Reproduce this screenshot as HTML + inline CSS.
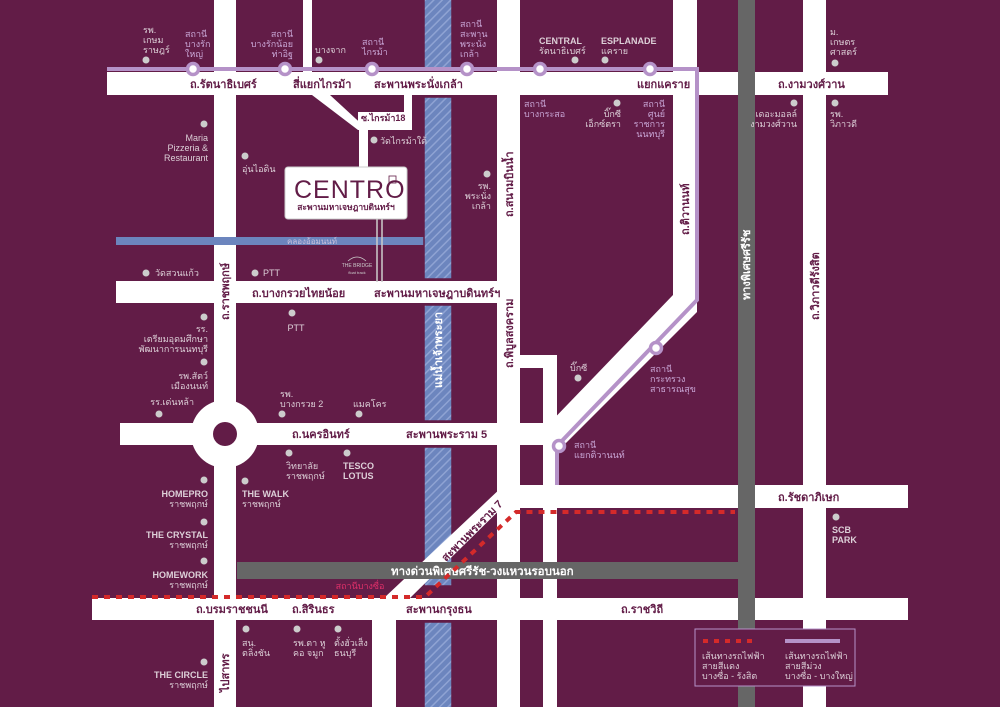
<!DOCTYPE html>
<html><head><meta charset="utf-8"><style>
html,body{margin:0;padding:0;background:#621c47;}
svg{display:block;font-family:"Liberation Sans","DejaVu Sans",sans-serif;}
.r{font-size:11px;font-weight:bold;fill:#621c47;}
.p{font-size:9px;fill:#ddd0d8;}
.s{font-size:9px;fill:#c9a6d6;}
.b{font-weight:bold;}
</style></head><body>
<svg width="1000" height="707" viewBox="0 0 1000 707" xmlns="http://www.w3.org/2000/svg">
<defs>
<pattern id="h" width="6" height="6" patternUnits="userSpaceOnUse" patternTransform="rotate(45)">
<rect width="6" height="6" fill="#6c85be"/><rect width="1.5" height="6" fill="#8fa3d3"/>
</pattern>
</defs>
<rect width="1000" height="707" fill="#621c47"/>
<g fill="#fff">
<!-- horizontal roads -->
<rect x="107" y="72" width="781" height="23"/>
<rect x="116" y="281" width="404" height="22"/>
<rect x="120" y="423" width="437" height="22"/>
<rect x="497" y="485" width="411" height="23"/>
<rect x="92" y="598" width="816" height="22"/>
<!-- vertical roads -->
<rect x="214" y="0" width="22" height="707"/>
<rect x="303" y="0" width="9" height="72"/>
<rect x="497" y="0" width="23" height="707"/>
<rect x="543" y="355" width="14" height="352"/>
<rect x="520" y="355" width="30" height="13"/>
<rect x="673" y="0" width="24" height="300"/>
<rect x="803" y="0" width="23" height="707"/>
<rect x="372" y="620" width="24" height="87"/>
<!-- small roads near centro -->
<polygon points="312,95 330,95 368,130 358,130"/>
<rect x="359" y="125" width="9" height="43"/>
<rect x="404" y="95" width="8" height="35"/>
<rect x="358" y="112" width="54" height="18"/>
<!-- tiwanon diagonal -->
<polygon points="673,295 697,295 697,312 557,452 543,452 543,430"/>
<!-- roundabout -->
<circle cx="225" cy="434" r="34"/>
</g>
<circle cx="225" cy="434" r="12" fill="#621c47"/>
<!-- canal -->
<rect x="116" y="237" width="308" height="8" fill="#6c85be"/>
<text x="312" y="244" class="p" text-anchor="middle" style="font-size:8px;fill:#c8c0dc">คลองอ้อมนนท์</text>
<!-- river -->
<g fill="url(#h)" stroke="#621c47" stroke-width="1.5">
<rect x="424" y="-2" width="28" height="72"/>
<rect x="424" y="97" width="28" height="182"/>
<rect x="424" y="305" width="28" height="116"/>
<rect x="424" y="447" width="28" height="139"/>
<rect x="424" y="622" width="28" height="90"/>
</g>
<!-- rama 7 diagonal -->
<polygon points="384,598 410,598 520,490 520,470" fill="#fff"/>
<!-- expressway -->
<rect x="237" y="562" width="518" height="17" fill="#666"/>
<rect x="738" y="0" width="17" height="707" fill="#666"/>
<text x="391" y="575" class="r" style="fill:#fff;font-size:11.5px">ทางด่วนพิเศษศรีรัช-วงแหวนรอบนอก</text>
<text class="r" transform="translate(750,300) rotate(-90)" style="fill:#fff">ทางพิเศษศรีรัช</text>
<!-- red line -->
<polyline points="92,597 425,597 516,512 735,512" fill="none" stroke="#d42a2a" stroke-width="4" stroke-dasharray="6,6"/>
<text x="360" y="589" class="p" text-anchor="middle" style="fill:#e0306a">สถานีบางซื่อ</text>
<!-- purple line -->
<polyline points="107,69 697,69 697,300 557,446 557,485" fill="none" stroke="#b592c8" stroke-width="4"/>
<g fill="#fff" stroke="#b592c8" stroke-width="3.5">
<circle cx="193" cy="69" r="5.5"/><circle cx="285" cy="69" r="5.5"/><circle cx="372" cy="69" r="5.5"/>
<circle cx="467" cy="69" r="5.5"/><circle cx="540" cy="69" r="5.5"/><circle cx="650" cy="69" r="5.5"/>
<circle cx="656" cy="348" r="5.5"/><circle cx="559" cy="446" r="5.5"/>
</g>
<!-- centro box -->
<line x1="377" y1="219" x2="377" y2="282" stroke="#ccc" stroke-width="1.5"/>
<line x1="382" y1="219" x2="382" y2="282" stroke="#ccc" stroke-width="1.5"/>
<rect x="285" y="167" width="122" height="52" rx="3" fill="#fff" stroke="#ccc"/>
<text x="294" y="198" style="font-size:25px;fill:#621c47;letter-spacing:1px;font-weight:300">CENTRO</text>
<rect x="389" y="176" width="7" height="7" fill="none" stroke="#621c47" stroke-width="0.8"/>
<text x="346" y="210" text-anchor="middle" style="font-size:8.5px;font-weight:bold;fill:#621c47">สะพานมหาเจษฎาบดินทร์ฯ</text>
<text x="357" y="267" text-anchor="middle" style="font-size:5px;fill:#ccc">THE BRIDGE</text>
<path d="M348 261 Q357 253 366 261" fill="none" stroke="#ccc" stroke-width="0.8"/>
<text x="357" y="274" text-anchor="middle" style="font-size:4px;fill:#ccc">float track</text>
<!-- road labels -->
<text x="190" y="88" class="r">ถ.รัตนาธิเบศร์</text>
<text x="293" y="88" class="r">สี่แยกไกรม้า</text>
<text x="374" y="88" class="r">สะพานพระนั่งเกล้า</text>
<text x="637" y="88" class="r">แยกแคราย</text>
<text x="778" y="88" class="r">ถ.งามวงศ์วาน</text>
<text x="361" y="121" class="r" style="font-size:9px">ซ.ไกรม้า18</text>
<text x="252" y="297" class="r">ถ.บางกรวยไทยน้อย</text>
<text x="374" y="297" class="r">สะพานมหาเจษฎาบดินทร์ฯ</text>
<text x="292" y="438" class="r">ถ.นครอินทร์</text>
<text x="406" y="438" class="r">สะพานพระราม 5</text>
<text x="778" y="501" class="r">ถ.รัชดาภิเษก</text>
<text x="196" y="613" class="r">ถ.บรมราชชนนี</text>
<text x="292" y="613" class="r">ถ.สิรินธร</text>
<text x="406" y="613" class="r">สะพานกรุงธน</text>
<text x="621" y="613" class="r">ถ.ราชวิถี</text>
<text class="r" transform="translate(229,320) rotate(-90)">ถ.ราชพฤกษ์</text>
<text class="r" transform="translate(513,217) rotate(-90)">ถ.สนามบินน้ำ</text>
<text class="r" transform="translate(513,368) rotate(-90)">ถ.พิบูลสงคราม</text>
<text class="r" transform="translate(689,235) rotate(-90)">ถ.ติวานนท์</text>
<text class="r" transform="translate(819,320) rotate(-90)">ถ.วิภาวดีรังสิต</text>
<text class="r" transform="translate(229,692) rotate(-90)">ไปสาทร</text>
<text class="r" transform="translate(442,388) rotate(-90)" style="fill:#fff">แม่น้ำเจ้าพระยา</text>
<text class="r" transform="translate(446,562) rotate(-45)">สะพานพระราม 7</text>
<!-- dots -->
<g fill="#ccc">
<circle cx="146" cy="60" r="3.5"/><circle cx="319" cy="60" r="3.5"/><circle cx="204" cy="124" r="3.5"/>
<circle cx="245" cy="156" r="3.5"/><circle cx="374" cy="140" r="3.5"/><circle cx="487" cy="174" r="3.5"/>
<circle cx="575" cy="60" r="3.5"/><circle cx="605" cy="60" r="3.5"/><circle cx="617" cy="103" r="3.5"/>
<circle cx="794" cy="103" r="3.5"/><circle cx="835" cy="103" r="3.5"/><circle cx="835" cy="63" r="3.5"/>
<circle cx="146" cy="273" r="3.5"/><circle cx="255" cy="273" r="3.5"/><circle cx="292" cy="313" r="3.5"/>
<circle cx="204" cy="317" r="3.5"/><circle cx="204" cy="362" r="3.5"/><circle cx="159" cy="414" r="3.5"/>
<circle cx="282" cy="414" r="3.5"/><circle cx="359" cy="414" r="3.5"/><circle cx="289" cy="453" r="3.5"/>
<circle cx="347" cy="453" r="3.5"/><circle cx="204" cy="480" r="3.5"/><circle cx="245" cy="481" r="3.5"/>
<circle cx="578" cy="378" r="3.5"/><circle cx="204" cy="522" r="3.5"/><circle cx="204" cy="561" r="3.5"/>
<circle cx="246" cy="629" r="3.5"/><circle cx="297" cy="629" r="3.5"/><circle cx="338" cy="629" r="3.5"/>
<circle cx="204" cy="662" r="3.5"/><circle cx="836" cy="517" r="3.5"/>
</g>
<!-- POI text -->
<g class="p">
<text x="143" y="33">รพ.</text><text x="143" y="43">เกษม</text><text x="143" y="53">ราษฎร์</text>
<text x="185" y="37" class="s">สถานี</text><text x="185" y="47" class="s">บางรัก</text><text x="185" y="57" class="s">ใหญ่</text>
<g text-anchor="end"><text x="293" y="37" class="s">สถานี</text><text x="293" y="47" class="s">บางรักน้อย</text><text x="293" y="57" class="s">ท่าอิฐ</text></g>
<text x="315" y="53">บางจาก</text>
<text x="362" y="45" class="s">สถานี</text><text x="362" y="55" class="s">ไกรม้า</text>
<text x="460" y="27" class="s">สถานี</text><text x="460" y="37" class="s">สะพาน</text><text x="460" y="47" class="s">พระนั่ง</text><text x="460" y="57" class="s">เกล้า</text>
<g text-anchor="end"><text x="208" y="141">Maria</text><text x="208" y="151">Pizzeria &amp;</text><text x="208" y="161">Restaurant</text></g>
<text x="242" y="172">อุ่นไอดิน</text>
<text x="380" y="144">วัดไกรม้าใต้</text>
<g text-anchor="end"><text x="491" y="189">รพ.</text><text x="491" y="199">พระนั่ง</text><text x="491" y="209">เกล้า</text></g>
<text x="539" y="44" class="b">CENTRAL</text><text x="539" y="54">รัตนาธิเบศร์</text>
<text x="601" y="44" class="b">ESPLANADE</text><text x="601" y="54">แคราย</text>
<text x="524" y="107" class="s">สถานี</text><text x="524" y="117" class="s">บางกระสอ</text>
<g text-anchor="end"><text x="621" y="117">บิ๊กซี</text><text x="621" y="127">เอ็กซ์ตรา</text></g>
<g text-anchor="end" class="s"><text x="665" y="107" class="s">สถานี</text><text x="665" y="117" class="s">ศูนย์</text><text x="665" y="127" class="s">ราชการ</text><text x="665" y="137" class="s">นนทบุรี</text></g>
<g text-anchor="end"><text x="797" y="117">เดอะมอลล์</text><text x="797" y="127">งามวงศ์วาน</text></g>
<text x="830" y="117">รพ.</text><text x="830" y="127">วิภาวดี</text>
<text x="830" y="35">ม.</text><text x="830" y="45">เกษตร</text><text x="830" y="55">ศาสตร์</text>
<text x="155" y="276">วัดสวนแก้ว</text>
<text x="263" y="276">PTT</text>
<text x="296" y="331" text-anchor="middle">PTT</text>
<g text-anchor="end"><text x="208" y="332">รร.</text><text x="208" y="342">เตรียมอุดมศึกษา</text><text x="208" y="352">พัฒนาการนนทบุรี</text>
<text x="208" y="379">รพ.สัตว์</text><text x="208" y="389">เมืองนนท์</text>
<text x="194" y="405">รร.เด่นหล้า</text>
<text x="208" y="497" class="b">HOMEPRO</text><text x="208" y="507">ราชพฤกษ์</text>
<text x="208" y="538" class="b">THE CRYSTAL</text><text x="208" y="548">ราชพฤกษ์</text>
<text x="208" y="578" class="b">HOMEWORK</text><text x="208" y="588">ราชพฤกษ์</text>
<text x="208" y="678" class="b">THE CIRCLE</text><text x="208" y="688">ราชพฤกษ์</text></g>
<text x="280" y="397">รพ.</text><text x="280" y="407">บางกรวย 2</text>
<text x="353" y="407">แมคโคร</text>
<text x="286" y="469">วิทยาลัย</text><text x="286" y="479">ราชพฤกษ์</text>
<text x="343" y="469" class="b">TESCO</text><text x="343" y="479" class="b">LOTUS</text>
<text x="242" y="497" class="b">THE WALK</text><text x="242" y="507">ราชพฤกษ์</text>
<text x="570" y="371">บิ๊กซี</text>
<text x="242" y="646">สน.</text><text x="242" y="656">ตลิ่งชัน</text>
<text x="293" y="646">รพ.ตา หู</text><text x="293" y="656">คอ จมูก</text>
<text x="334" y="646">ตั้งฮั่วเส็ง</text><text x="334" y="656">ธนบุรี</text>
<text x="650" y="372" class="s">สถานี</text><text x="650" y="382" class="s">กระทรวง</text><text x="650" y="392" class="s">สาธารณสุข</text>
<text x="574" y="448" class="s">สถานี</text><text x="574" y="458" class="s">แยกติวานนท์</text>
<text x="832" y="533" class="b">SCB</text><text x="832" y="543" class="b">PARK</text>
</g>
<!-- legend -->
<rect x="695" y="629" width="160" height="57" fill="#621c47" stroke="#b592c8" stroke-width="1"/>
<line x1="703" y1="641" x2="755" y2="641" stroke="#d42a2a" stroke-width="4" stroke-dasharray="5,6"/>
<line x1="785" y1="641" x2="840" y2="641" stroke="#b592c8" stroke-width="4"/>
<g class="p"><text x="702" y="659">เส้นทางรถไฟฟ้า</text><text x="702" y="669">สายสีแดง</text><text x="702" y="679">บางซื่อ - รังสิต</text>
<text x="785" y="659">เส้นทางรถไฟฟ้า</text><text x="785" y="669">สายสีม่วง</text><text x="785" y="679">บางซื่อ - บางใหญ่</text></g>
</svg>
</body></html>
